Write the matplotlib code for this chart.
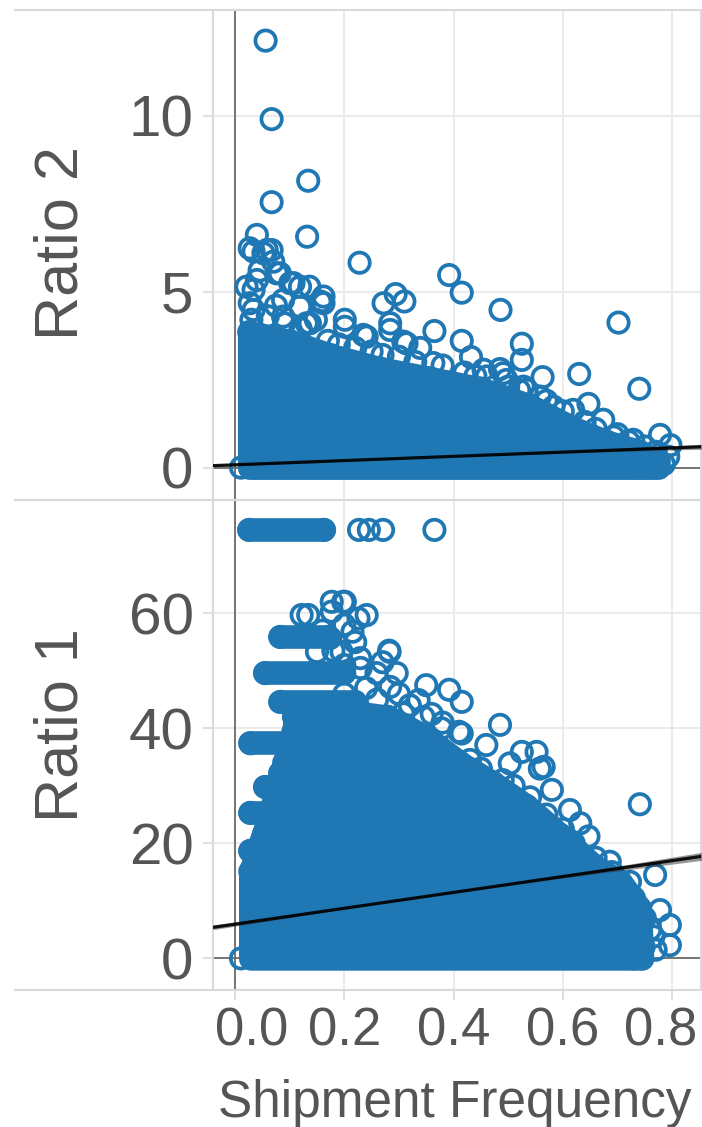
import matplotlib
matplotlib.use("Agg")
import matplotlib.pyplot as plt
import matplotlib.transforms as mtransforms
from matplotlib.lines import Line2D
import numpy as np

plt.rcParams['font.family'] = ['Liberation Sans', 'DejaVu Sans']

BLUE = '#1f77b4'
GRID = '#ebebeb'
FRAME = '#d9d9d9'
ZERO = '#6b6b6b'
TEXT = '#555555'

# ---- Ratio 2 (top panel) ----
# solid core of overlapping points: x and upper edge (point centres), lower edge at 0
r2_dense_x = [0.026, 0.05, 0.10, 0.174, 0.265, 0.357, 0.449, 0.54, 0.62, 0.68, 0.74, 0.775]
r2_dense_top = [3.85, 3.75, 3.6, 3.2, 2.82, 2.54, 2.25, 1.76, 1.12, 0.74, 0.46, 0.2]
r2_dense_low = [0, 0, 0, 0, 0, 0, 0, 0, 0, 0, 0, 0]
# points standing out from the core
r2_x = [0.056, 0.067, 0.134, 0.067, 0.132, 0.040, 0.027, 0.067, 0.052, 0.070,
        0.228, 0.082, 0.040, 0.107, 0.119, 0.136, 0.021, 0.162, 0.162, 0.027,
        0.392, 0.415, 0.486, 0.702, 0.272, 0.294, 0.310, 0.201, 0.201, 0.148,
        0.131, 0.284, 0.284, 0.365, 0.241, 0.235, 0.308, 0.314, 0.415, 0.525,
        0.339, 0.432, 0.525, 0.363, 0.485, 0.455, 0.491, 0.630, 0.461, 0.563,
        0.497, 0.528, 0.740, 0.534, 0.558, 0.647, 0.583, 0.619, 0.674, 0.778,
        0.693, 0.729, 0.797, 0.793, 0.772, 0.741, 0.011,
        0.034, 0.058, 0.034, 0.076, 0.101, 0.156, 0.034, 0.088, 0.119, 0.137, 0.088,
        0.17, 0.19, 0.22, 0.25, 0.27, 0.30, 0.33, 0.38, 0.42, 0.44,
        0.50, 0.52, 0.57, 0.60, 0.64, 0.66, 0.70, 0.72, 0.75, 0.77, 0.76, 0.785,
        0.03, 0.06, 0.09, 0.12, 0.045, 0.075]
r2_y = [12.13, 9.90, 8.15, 7.54, 6.56, 6.61, 6.23, 6.18, 6.09, 5.85,
        5.82, 5.52, 5.33, 5.24, 5.14, 5.14, 5.14, 4.86, 4.67, 4.67,
        5.47, 4.97, 4.48, 4.12, 4.67, 4.93, 4.72, 4.20, 4.00, 4.20,
        4.10, 4.10, 3.91, 3.88, 3.72, 3.77, 3.58, 3.53, 3.60, 3.52,
        3.40, 3.14, 3.06, 2.97, 2.80, 2.78, 2.68, 2.66, 2.59, 2.57,
        2.49, 2.30, 2.24, 2.21, 2.02, 1.81, 1.73, 1.64, 1.36, 0.93,
        0.88, 0.79, 0.64, 0.31, 0.03, 0.0, 0.0,
        6.14, 6.18, 5.05, 5.52, 5.24, 4.72, 4.48, 4.76, 4.57, 4.10, 4.29,
        3.6, 3.5, 3.4, 3.3, 3.2, 3.15, 3.0, 2.9, 2.7, 2.6,
        2.3, 2.2, 1.9, 1.6, 1.3, 1.1, 0.95, 0.75, 0.6, 0.45, 0.25, 0.1,
        4.2, 4.3, 4.1, 3.95, 5.6, 4.6]
# linear fit and its confidence band
r2_fit_x = [-0.04, 0.2, 0.4, 0.6, 0.855]
r2_fit_y = [0.056, 0.2, 0.32, 0.44, 0.593]
r2_band_half = [0.035, 0.012, 0.01, 0.025, 0.07]

# ---- Ratio 1 (bottom panel) ----
r1_dense_x = [0.028, 0.06, 0.09, 0.11, 0.20, 0.28, 0.35, 0.412, 0.473, 0.534, 0.595, 0.656, 0.705, 0.741, 0.745]
r1_dense_top = [15.1, 24.0, 34.0, 41.0, 43.0, 42.0, 38.5, 34.0, 30.5, 26.5, 21.5, 16.2, 13.4, 8.7, 0.0]
r1_dense_low = [0, 0, 0, 0, 0, 0, 0, 0, 0, 0, 0, 0, 0, 0, 0]
# horizontal runs of points sharing one ratio value
r1_row_y = [74.5, 55.9, 49.6, 44.6, 42.0, 37.4, 32.2, 29.8, 25.3, 21.5, 18.7]
r1_row_x0 = [0.026, 0.083, 0.055, 0.083, 0.108, 0.028, 0.083, 0.055, 0.028, 0.053, 0.028]
r1_row_x1 = [0.163, 0.17, 0.20, 0.22, 0.25, 0.30, 0.30, 0.30, 0.30, 0.30, 0.30]
r1_x = [0.227, 0.245, 0.271, 0.365,
        0.177, 0.198, 0.122, 0.134, 0.241, 0.226, 0.177, 0.215, 0.174, 0.150,
        0.195, 0.229, 0.282, 0.296, 0.259, 0.284, 0.350, 0.392, 0.415, 0.336,
        0.308, 0.345, 0.485, 0.378, 0.410, 0.460, 0.525, 0.552, 0.565, 0.558,
        0.503, 0.580, 0.613, 0.632, 0.647, 0.686, 0.741, 0.769, 0.723, 0.778,
        0.796, 0.796, 0.748, 0.766, 0.729, 0.011, 0.201, 0.283, 0.415,
        0.43, 0.45, 0.49, 0.51, 0.54, 0.57, 0.60, 0.62, 0.66, 0.69, 0.71, 0.73,
        0.75, 0.76, 0.77,
        0.20, 0.24, 0.26, 0.30, 0.32, 0.36, 0.38, 0.23, 0.27, 0.20, 0.16, 0.20,
        0.18, 0.13, 0.22]
r1_y = [74.5, 74.5, 74.5, 74.5,
        62.0, 62.0, 59.7, 59.7, 59.7, 59.1, 60.3, 56.8, 55.7, 53.3,
        53.3, 52.2, 53.5, 49.6, 49.6, 47.2, 47.5, 46.7, 44.6, 44.9,
        42.6, 42.0, 40.6, 40.0, 39.4, 37.1, 35.9, 35.9, 33.3, 33.0,
        33.9, 29.3, 25.8, 23.5, 21.2, 16.8, 26.8, 14.5, 13.3, 8.4,
        5.8, 2.3, 2.0, 3.8, 0.0, 0.0, 62.0, 53.3, 39.1,
        34.5, 33.0, 31.0, 30.0, 28.0, 25.0, 22.5, 20.0, 17.5, 15.0, 12.5, 10.5,
        7.0, 5.0, 1.5,
        46.0, 47.0, 45.0, 46.0, 44.0, 42.5, 41.0, 50.5, 51.5, 51.0, 57.0, 58.0,
        53.5, 56.0, 55.0]
r1_fit_x = [-0.04, 0.2, 0.4, 0.6, 0.855]
r1_fit_y = [5.40, 8.71, 11.47, 14.23, 17.75]
r1_band_half = [0.4, 0.12, 0.1, 0.25, 0.7]

W, H = 702, 1127
fig = plt.figure(figsize=(W / 100, H / 100), dpi=100)
left, right = 213 / W, 701 / W
ax_top = fig.add_axes([left, 1 - 500 / H, right - left, 490 / H])
ax_bot = fig.add_axes([left, 1 - 990 / H, right - left, 490 / H])

ring = dict(s=215, facecolors='none', edgecolors=BLUE, linewidths=2.7, zorder=3)
blob_lw = 17.0  # outer diameter of a ring, in points


def panel(ax, dx, dtop, dlow, px, py, fx, fy, fh, yticks, ylim):
    ax.set_xlim(-0.0403, 0.853)
    ax.set_ylim(*ylim)
    ax.fill_between(dx, dlow, dtop, facecolor=BLUE, edgecolor=BLUE,
                    linewidth=blob_lw, joinstyle='round', zorder=2.5)
    ax.scatter(dx, dtop, **ring)
    ax.scatter(px, py, **ring)
    fy = np.array(fy)
    fh = np.array(fh)
    ax.fill_between(fx, fy - fh, fy + fh, color='#333333', alpha=0.5, lw=0, zorder=4)
    ax.plot(fx, fy, color='black', lw=2.3, alpha=0.9, zorder=5)
    ax.axhline(0, color=ZERO, lw=1.3, zorder=1.5)
    ax.axvline(0, color=ZERO, lw=1.3, zorder=1.5)
    ax.set_xticks([0.0, 0.2, 0.4, 0.6, 0.8])
    ax.set_yticks(yticks)
    ax.grid(True, color=GRID, lw=1.5)
    ax.set_axisbelow(True)
    for sp in ax.spines.values():
        sp.set_color(FRAME)
        sp.set_linewidth(1.5)
    ax.tick_params(axis='y', length=7, width=1.2, color=FRAME, labelsize=42,
                   labelcolor=TEXT, pad=7)


panel(ax_top, r2_dense_x, r2_dense_top, r2_dense_low, r2_x, r2_y,
      r2_fit_x, r2_fit_y, r2_band_half, [0, 5, 10], (-0.92, 13.0))
ax_top.tick_params(axis='x', length=0, labelbottom=False)

panel(ax_bot, r1_dense_x, r1_dense_top, r1_dense_low, r1_x, r1_y,
      r1_fit_x, r1_fit_y, r1_band_half, [0, 20, 40, 60], (-5.5, 79.7))
for y, x0, x1 in zip(r1_row_y, r1_row_x0, r1_row_x1):
    ax_bot.plot([x0, x1], [y, y], color=BLUE, lw=blob_lw, solid_capstyle='round', zorder=2.6)
    ax_bot.scatter([x0, x1], [y, y], **ring)
ax_bot.set_xticklabels(['0.0', '0.2', '0.4', '0.6', '0.8'])
ax_bot.tick_params(axis='x', length=7, width=1.2, color=FRAME, labelsize=38,
                   labelcolor=TEXT, pad=5)
shifts = [12, 0, 0, 0, -8.5]
for lab, dx in zip(ax_bot.get_xticklabels(), shifts):
    lab.set_transform(lab.get_transform() +
                      mtransforms.ScaledTranslation(dx / 72, 0, fig.dpi_scale_trans))

# row separators running out under the axis titles
for yp in (10, 500, 990):
    fig.add_artist(Line2D([15 / W, left], [1 - yp / H, 1 - yp / H],
                          transform=fig.transFigure, color=FRAME, lw=1.5))

fig.text(62 / W, 1 - 243 / H, 'Ratio 2', rotation=90, ha='center', va='center',
         fontsize=44, color=TEXT)
fig.text(62 / W, 1 - 725 / H, 'Ratio 1', rotation=90, ha='center', va='center',
         fontsize=44, color=TEXT)
fig.text(455 / W, 10 / H, 'Shipment Frequency', ha='center', va='baseline',
         fontsize=37, color=TEXT)

fig.savefig('out.png', dpi=100)
